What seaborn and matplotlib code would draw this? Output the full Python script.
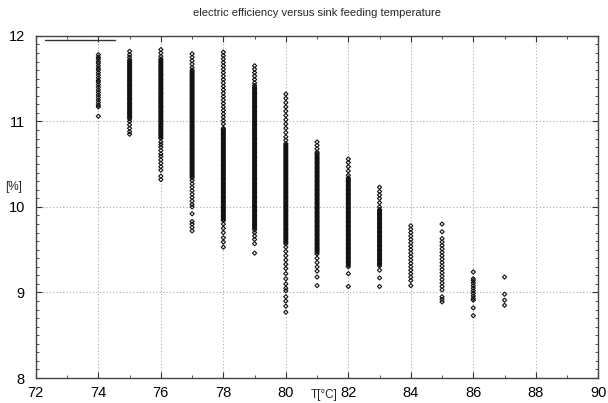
import matplotlib
matplotlib.use("Agg")
import matplotlib.pyplot as plt
from matplotlib.ticker import MultipleLocator
import seaborn as sns
import pandas as pd

title = "electric efficiency versus sink feeding temperature"
x_label = "T[°C]"
y_label = "[%]"

t74 = [11.78, 11.75, 11.73, 11.70, 11.68, 11.65, 11.62, 11.60, 11.57, 11.54, 11.51, 11.48,
       11.46, 11.43, 11.40, 11.37, 11.34, 11.31, 11.28, 11.25, 11.22, 11.19, 11.17, 11.06]
t75 = [11.82, 11.78, 11.75, 11.72, 11.69, 11.66, 11.63, 11.60, 11.57, 11.54, 11.51, 11.48,
       11.45, 11.42, 11.39, 11.36, 11.33, 11.30, 11.27, 11.24, 11.21, 11.18, 11.15, 11.12,
       11.09, 11.06, 11.03, 11.00, 10.96, 10.92, 10.88, 10.85]
t76 = [11.84, 11.80, 11.76, 11.73, 11.70, 11.67, 11.64, 11.61, 11.58, 11.55, 11.52, 11.49,
       11.46, 11.43, 11.40, 11.37, 11.34, 11.31, 11.28, 11.25, 11.22, 11.19, 11.16, 11.13,
       11.10, 11.07, 11.04, 11.01, 10.98, 10.95, 10.92, 10.89, 10.86, 10.83, 10.80, 10.76,
       10.73, 10.70, 10.66, 10.62, 10.59, 10.55, 10.51, 10.47, 10.43, 10.36, 10.32]
t77 = [11.79, 11.75, 11.71, 11.67, 11.63, 11.60, 11.57, 11.54, 11.51, 11.48, 11.45, 11.42,
       11.39, 11.36, 11.33, 11.30, 11.27, 11.24, 11.21, 11.18, 11.15, 11.12, 11.09, 11.06,
       11.03, 11.00, 10.97, 10.94, 10.91, 10.88, 10.85, 10.82, 10.79, 10.76, 10.73, 10.70,
       10.67, 10.64, 10.61, 10.58, 10.55, 10.52, 10.49, 10.46, 10.43, 10.40, 10.37, 10.34,
       10.31, 10.27, 10.23, 10.19, 10.15, 10.11, 10.07, 10.03, 10.00, 9.92, 9.83, 9.80,
       9.76, 9.72]
t78 = [11.81, 11.77, 11.73, 11.69, 11.65, 11.61, 11.57, 11.53, 11.49, 11.45, 11.41, 11.37,
       11.33, 11.29, 11.25, 11.21, 11.17, 11.13, 11.09, 11.05, 11.01, 10.97, 10.92, 10.89,
       10.86, 10.83, 10.80, 10.77, 10.74, 10.71, 10.68, 10.65, 10.62, 10.59, 10.56, 10.53,
       10.50, 10.47, 10.44, 10.41, 10.38, 10.35, 10.32, 10.29, 10.26, 10.23, 10.20, 10.17,
       10.14, 10.11, 10.08, 10.05, 10.02, 9.99, 9.96, 9.93, 9.90, 9.87, 9.84, 9.80, 9.75,
       9.70, 9.64, 9.59, 9.53]
t79 = [11.65, 11.61, 11.57, 11.53, 11.49, 11.45, 11.42, 11.40, 11.37, 11.34, 11.31, 11.28,
       11.25, 11.22, 11.19, 11.16, 11.13, 11.10, 11.07, 11.04, 11.01, 10.98, 10.95, 10.92,
       10.89, 10.86, 10.83, 10.80, 10.77, 10.74, 10.71, 10.68, 10.65, 10.62, 10.59, 10.56,
       10.53, 10.50, 10.47, 10.44, 10.41, 10.38, 10.35, 10.32, 10.29, 10.26, 10.23, 10.20,
       10.17, 10.14, 10.11, 10.08, 10.05, 10.02, 9.99, 9.96, 9.93, 9.90, 9.87, 9.84, 9.81,
       9.78, 9.75, 9.73, 9.70, 9.66, 9.62, 9.57, 9.46]
t80 = [11.32, 11.27, 11.22, 11.17, 11.12, 11.07, 11.02, 10.97, 10.92, 10.87, 10.82, 10.78,
       10.74, 10.71, 10.68, 10.65, 10.62, 10.59, 10.56, 10.53, 10.50, 10.47, 10.44, 10.41,
       10.38, 10.35, 10.32, 10.29, 10.26, 10.23, 10.20, 10.17, 10.14, 10.11, 10.08, 10.05,
       10.02, 9.99, 9.96, 9.93, 9.90, 9.87, 9.84, 9.81, 9.78, 9.75, 9.72, 9.69, 9.66, 9.63,
       9.60, 9.57, 9.53, 9.48, 9.43, 9.38, 9.33, 9.28, 9.22, 9.16, 9.10, 9.05, 9.02, 8.95,
       8.90, 8.84, 8.77]
t81 = [10.76, 10.72, 10.68, 10.64, 10.61, 10.58, 10.55, 10.52, 10.49, 10.46, 10.43, 10.40,
       10.37, 10.34, 10.31, 10.28, 10.25, 10.22, 10.19, 10.16, 10.13, 10.10, 10.07, 10.04,
       10.01, 9.98, 9.95, 9.92, 9.89, 9.86, 9.83, 9.80, 9.77, 9.74, 9.71, 9.68, 9.65, 9.62,
       9.59, 9.56, 9.53, 9.50, 9.47, 9.45, 9.40, 9.35, 9.30, 9.25, 9.18, 9.08]
t82 = [10.56, 10.52, 10.47, 10.42, 10.37, 10.34, 10.31, 10.28, 10.25, 10.22, 10.19, 10.16,
       10.13, 10.10, 10.07, 10.04, 10.01, 9.98, 9.95, 9.92, 9.89, 9.86, 9.83, 9.80, 9.77,
       9.74, 9.71, 9.68, 9.65, 9.62, 9.59, 9.56, 9.53, 9.50, 9.47, 9.44, 9.41, 9.38, 9.35,
       9.32, 9.30, 9.22, 9.07]
t83 = [10.23, 10.18, 10.14, 10.10, 10.05, 10.00, 9.97, 9.94, 9.91, 9.88, 9.85, 9.82, 9.79,
       9.76, 9.73, 9.70, 9.67, 9.64, 9.61, 9.58, 9.55, 9.52, 9.49, 9.46, 9.43, 9.40, 9.37,
       9.34, 9.31, 9.26, 9.17, 9.07]
t84 = [9.78, 9.74, 9.70, 9.66, 9.62, 9.58, 9.54, 9.50, 9.46, 9.42, 9.38, 9.34, 9.30, 9.26,
       9.22, 9.18, 9.14, 9.08]
t85 = [9.80, 9.71, 9.63, 9.59, 9.55, 9.51, 9.47, 9.43, 9.39, 9.35, 9.31, 9.27, 9.23, 9.19,
       9.15, 9.11, 9.07, 9.03, 8.95, 8.92, 8.89]
t86 = [9.24, 9.16, 9.14, 9.11, 9.08, 9.05, 9.02, 8.99, 8.96, 8.93, 8.91, 8.82, 8.73]
t87 = [9.18, 8.98, 8.91, 8.85]

# additional points inside the densest (solid black) parts of each column
t75_core = [11.705, 11.675, 11.645, 11.615, 11.585, 11.555, 11.525, 11.495, 11.465, 11.435,
            11.405, 11.375, 11.345, 11.315, 11.285, 11.255, 11.225, 11.195, 11.165, 11.135,
            11.105, 11.075, 11.045]
t76_core = [11.715, 11.685, 11.655, 11.625, 11.595, 11.565, 11.535, 11.505, 11.475, 11.445,
            11.415, 11.385, 11.355, 11.325, 11.295, 11.265, 11.235, 11.205, 11.175, 11.145,
            11.115, 11.085, 11.055, 11.025, 10.995, 10.965, 10.935, 10.905, 10.875, 10.845,
            10.815]
t77_core = [11.585, 11.555, 11.525, 11.495, 11.465, 11.435, 11.405, 11.375, 11.345, 11.315,
            11.285, 11.255, 11.225, 11.195, 11.165, 11.135, 11.105, 11.075, 11.045, 11.015,
            10.985, 10.955, 10.925, 10.895, 10.865, 10.835, 10.805, 10.775, 10.745, 10.715,
            10.685, 10.655, 10.625, 10.595, 10.565, 10.535, 10.505, 10.475, 10.445, 10.415,
            10.385, 10.355]
t78_core = [10.905, 10.875, 10.845, 10.815, 10.785, 10.755, 10.725, 10.695, 10.665, 10.635,
            10.605, 10.575, 10.545, 10.515, 10.485, 10.455, 10.425, 10.395, 10.365, 10.335,
            10.305, 10.275, 10.245, 10.215, 10.185, 10.155, 10.125, 10.095, 10.065, 10.035,
            10.005, 9.975, 9.945, 9.915, 9.885, 9.855]
t79_core = [11.385, 11.355, 11.325, 11.295, 11.265, 11.235, 11.205, 11.175, 11.145, 11.115,
            11.085, 11.055, 11.025, 10.995, 10.965, 10.935, 10.905, 10.875, 10.845, 10.815,
            10.785, 10.755, 10.725, 10.695, 10.665, 10.635, 10.605, 10.575, 10.545, 10.515,
            10.485, 10.455, 10.425, 10.395, 10.365, 10.335, 10.305, 10.275, 10.245, 10.215,
            10.185, 10.155, 10.125, 10.095, 10.065, 10.035, 10.005, 9.975, 9.945, 9.915,
            9.885, 9.855, 9.825, 9.795, 9.765]
t80_core = [10.725, 10.695, 10.665, 10.635, 10.605, 10.575, 10.545, 10.515, 10.485, 10.455,
            10.425, 10.395, 10.365, 10.335, 10.305, 10.275, 10.245, 10.215, 10.185, 10.155,
            10.125, 10.095, 10.065, 10.035, 10.005, 9.975, 9.945, 9.915, 9.885, 9.855,
            9.825, 9.795, 9.765, 9.735, 9.705, 9.675, 9.645, 9.615, 9.585]
t81_core = [10.625, 10.595, 10.565, 10.535, 10.505, 10.475, 10.445, 10.415, 10.385, 10.355,
            10.325, 10.295, 10.265, 10.235, 10.205, 10.175, 10.145, 10.115, 10.085, 10.055,
            10.025, 9.995, 9.965, 9.935, 9.905, 9.875, 9.845, 9.815, 9.785, 9.755, 9.725,
            9.695, 9.665, 9.635, 9.605, 9.575, 9.545, 9.515, 9.485]
t82_core = [10.325, 10.295, 10.265, 10.235, 10.205, 10.175, 10.145, 10.115, 10.085, 10.055,
            10.025, 9.995, 9.965, 9.935, 9.905, 9.875, 9.845, 9.815, 9.785, 9.755, 9.725,
            9.695, 9.665, 9.635, 9.605, 9.575, 9.545, 9.515, 9.485, 9.455, 9.425, 9.395,
            9.365, 9.335]
t83_core = [9.955, 9.925, 9.895, 9.865, 9.835, 9.805, 9.775, 9.745, 9.715, 9.685, 9.655,
            9.625, 9.595, 9.565, 9.535, 9.505, 9.475, 9.445, 9.415, 9.385, 9.355, 9.325]

temperatures = [74, 75, 76, 77, 78, 79, 80, 81, 82, 83, 84, 85, 86, 87]
series = [t74, t75, t76, t77, t78, t79, t80, t81, t82, t83, t84, t85, t86, t87]
cores = [[], t75_core, t76_core, t77_core, t78_core, t79_core, t80_core, t81_core,
         t82_core, t83_core, [], [], [], []]

x_ticks = [72, 74, 76, 78, 80, 82, 84, 86, 88, 90]
y_ticks = [8, 9, 10, 11, 12]

rows = []
for t, vals, core in zip(temperatures, series, cores):
    for v in list(vals) + list(core):
        rows.append((t, v))
df = pd.DataFrame(rows, columns=["T", "eff"])

sns.set_theme(style="white")
plt.rcParams["font.family"] = ["Liberation Sans", "DejaVu Sans"]

fig = plt.figure(figsize=(6.08, 4.03), dpi=100)
ax = fig.add_axes([0.059, 0.062, 0.925, 0.849])

sns.scatterplot(data=df, x="T", y="eff", ax=ax, marker="D", s=4.5,
                facecolors="none", edgecolor="#111111", linewidth=0.8, legend=False)

ax.set_xlim(72, 90)
ax.set_ylim(8, 12)
ax.set_xticks(x_ticks)
ax.set_yticks(y_ticks)
ax.set_xticklabels([str(v) for v in x_ticks])
ax.set_yticklabels([str(v) for v in y_ticks])
ax.xaxis.set_minor_locator(MultipleLocator(1))
ax.yaxis.set_minor_locator(MultipleLocator(0.1))
ax.tick_params(which="both", direction="in", top=True, right=True, bottom=True, left=True,
               colors="#333333", labelcolor="black")
ax.tick_params(which="major", length=4, width=0.8, labelsize=10.5)
ax.tick_params(which="minor", length=2.5, width=0.6)
ax.tick_params(axis="y", which="major", pad=8)
ax.tick_params(axis="x", which="major", pad=6)

ax.grid(True, which="major", color="#aaaaaa", linestyle=(0, (1, 2)), linewidth=0.8)
for sp in ax.spines.values():
    sp.set_color("#444444")
    sp.set_linewidth(1.0)

ax.set_xlabel(x_label, fontsize=8.5)
ax.xaxis.label.set_va("center")
ax.xaxis.set_label_coords(0.512, -0.05)
ax.set_ylabel(y_label, fontsize=8.5, rotation=0, ha="center", va="center")
ax.yaxis.set_label_coords(-0.039, 0.558)
ax.set_title(title, fontsize=8, pad=14)

ax.plot([0.016, 0.14], [0.988, 0.988], transform=ax.transAxes, color="#333333", lw=1)

fig.savefig("out.png", dpi=100)
